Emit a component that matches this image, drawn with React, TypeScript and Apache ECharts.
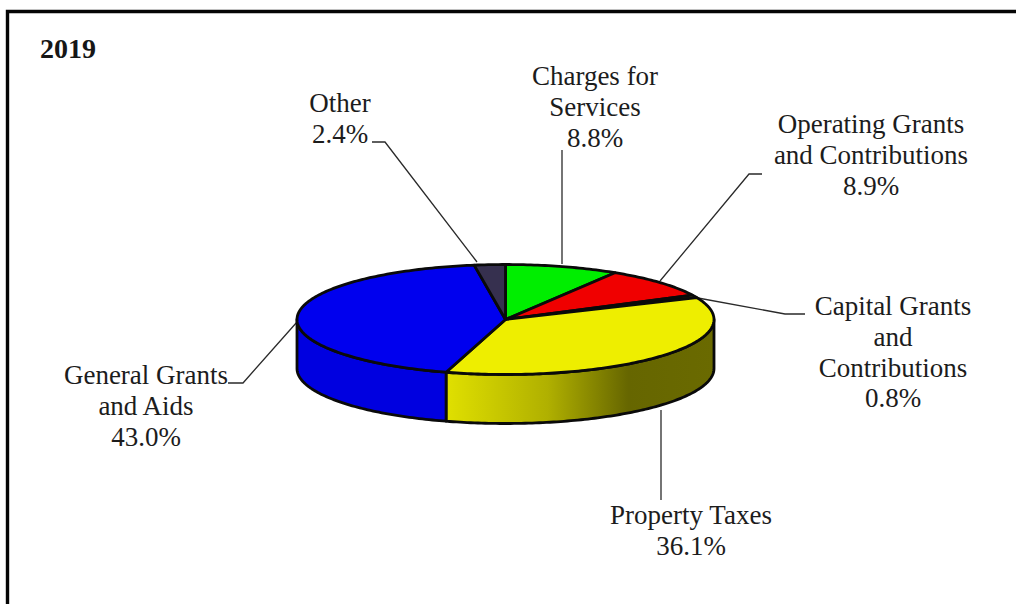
import React, { useEffect, useRef } from "react";
import * as echarts from "echarts";

// Revenue shares for 2019, clockwise from twelve o'clock.
const yearLabel = "2019";
const categories = [
  "Charges for\nServices",
  "Operating Grants\nand Contributions",
  "Capital Grants\nand\nContributions",
  "Property Taxes",
  "General Grants\nand Aids",
  "Other",
];
const shares = [8.8, 8.9, 0.8, 36.1, 43.0, 2.4];

// Disc geometry of the tilted pie, in pixels.
const CX = 505.5;
const CY = 319.5;
const RX = 208.5;
const RY = 55;
const DEPTH = 49;

const FONT = "'Liberation Serif', 'Times New Roman', serif";
const TOP_COLORS = ["#00ee00", "#f00000", "#6b6b10", "#eeee00", "#0000ee", "#36304f"];

// Label anchor (centre, first line's top) and leader route for each slice.
const LABEL_LAYOUT: { x: number; y: number; leader: number[][] }[] = [
  { x: 595, y: 61, leader: [[562, 150], [562, 264]] },
  { x: 871, y: 109, leader: [[762, 174], [749, 174], [660, 281]] },
  { x: 893, y: 291, leader: [[805, 314], [785, 314], [698, 298]] },
  { x: 691, y: 500, leader: [[661, 500], [661, 410]] },
  { x: 146, y: 360, leader: [[228, 383], [243, 383], [297, 322]] },
  { x: 340, y: 88, leader: [[372, 142], [385, 142], [477, 262]] },
];

const total = shares.reduce((a, b) => a + b, 0);

const pointAt = (deg: number, drop = 0): number[] => {
  const t = (deg * Math.PI) / 180;
  return [CX + RX * Math.sin(t), CY - RY * Math.cos(t) + drop];
};

const arcPoints = (from: number, to: number, drop = 0): number[][] => {
  const pts: number[][] = [];
  const steps = Math.max(2, Math.ceil(Math.abs(to - from)));
  for (let i = 0; i <= steps; i++) pts.push(pointAt(from + ((to - from) * i) / steps, drop));
  return pts;
};

const sliceAngles = (index: number): [number, number] => {
  let sum = 0;
  for (let i = 0; i < index; i++) sum += shares[i];
  return [(sum / total) * 360, ((sum + shares[index]) / total) * 360];
};

const OUTLINE = { stroke: "#0a0a0a", lineWidth: 2.8, lineJoin: "round" as const };

const sideFill = (index: number): any => {
  if (index === 3) {
    return new echarts.graphic.LinearGradient(0, 0, 1, 0, [
      { offset: 0, color: "#e0e000" },
      { offset: 0.38, color: "#b0b000" },
      { offset: 0.68, color: "#666600" },
      { offset: 1, color: "#6a6a00" },
    ]);
  }
  return "#0000e0";
};

// Draws the rim first, so each top face and its outline sits above it.
const renderSide = (params: any) => {
  const [a, b] = sliceAngles(params.dataIndex);
  const from = Math.max(a, 90);
  const to = Math.min(b, 270);
  if (to <= from) return { type: "group", children: [] };
  const points = [...arcPoints(from, to), ...arcPoints(to, from, DEPTH)];
  return {
    type: "polygon",
    z2: 1,
    shape: { points },
    style: { fill: sideFill(params.dataIndex), ...OUTLINE },
  };
};

const renderTop = (params: any) => {
  const i = params.dataIndex;
  const [a, b] = sliceAngles(i);
  const points = [[CX, CY], ...arcPoints(a, b)];
  return {
    type: "polygon",
    z2: 2,
    shape: { points },
    style: { fill: TOP_COLORS[i], ...OUTLINE },
  };
};

const renderLabel = (params: any) => {
  const i = params.dataIndex;
  const layout = LABEL_LAYOUT[i];
  return {
    type: "group",
    children: [
      {
        type: "polyline",
        z2: 3,
        shape: { points: layout.leader },
        style: { stroke: "#2a2a2a", lineWidth: 1.3, fill: "none" },
      },
      {
        type: "text",
        z2: 4,
        x: layout.x,
        y: layout.y,
        style: {
          text: `${categories[i]}\n${shares[i].toFixed(1)}%`,
          font: `27px ${FONT}`,
          lineHeight: 30.7,
          align: "center",
          verticalAlign: "top",
          fill: "#1c1c1c",
        },
      },
    ],
  };
};

export default function App() {
  const ref = useRef<HTMLDivElement>(null);

  useEffect(() => {
    document.body.style.margin = "0";
    const chart = echarts.init(ref.current!, undefined, { renderer: "svg" });
    const data = shares.map((v) => [v]);
    const series = (name: string, renderItem: any, z: number) => ({
      type: "custom",
      name,
      coordinateSystem: "none",
      renderItem,
      data,
      z,
      silent: true,
    });
    chart.setOption({
      animation: false,
      backgroundColor: "#ffffff",
      graphic: [
        {
          type: "polyline",
          shape: { points: [[7.5, 604], [7.5, 11.5], [1016, 11.5]] },
          style: { stroke: "#050505", lineWidth: 3.4, fill: "none" },
        },
        {
          type: "text",
          x: 40,
          y: 34,
          style: {
            text: yearLabel,
            font: `bold 28px ${FONT}`,
            fill: "#161616",
          },
        },
      ],
      series: [
        series("labels", renderLabel, 1),
        series("rim", renderSide, 2),
        series("top", renderTop, 3),
      ],
    });
    return () => chart.dispose();
  }, []);

  return <div ref={ref} style={{ width: 1016, height: 604 }} />;
}
